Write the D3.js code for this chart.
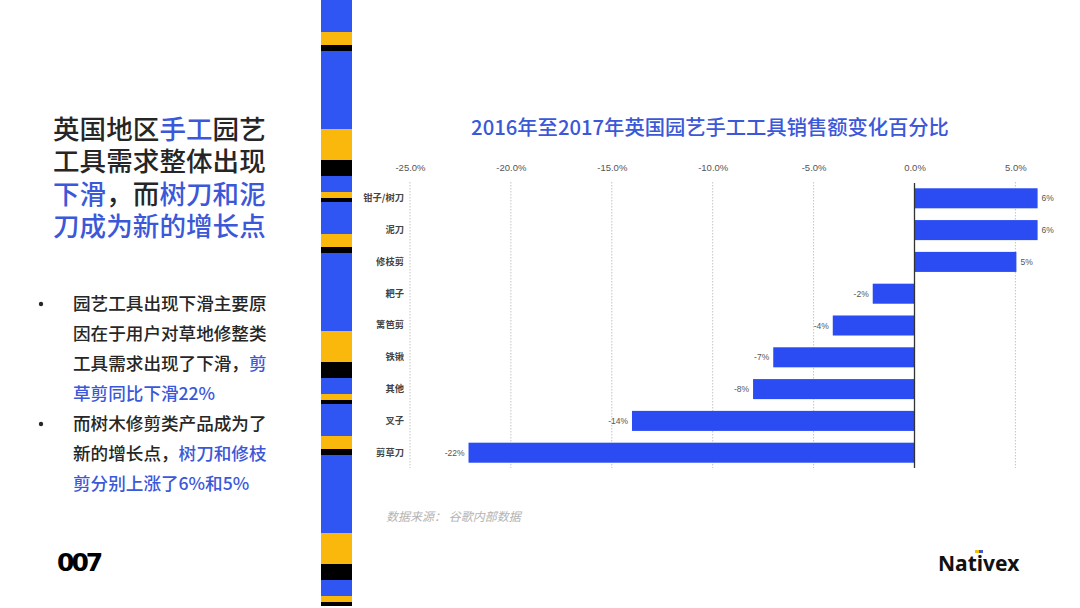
<!DOCTYPE html>
<html>
<head>
<meta charset="utf-8">
<script src="https://cdn.jsdelivr.net/npm/d3@7"></script>
<style>
body { margin: 0; background: #fff; }
svg { display: block; font-family: "Noto Sans CJK SC", "Noto Sans", sans-serif; }
</style>
</head>
<body>
<script>
// data
var categories = ["钳子/树刀", "泥刀", "修枝剪", "耙子", "篱笆剪", "铁锹", "其他", "叉子", "剪草刀"];
var values = [6.1, 6.1, 5.05, -2.07, -4.05, -7.0, -8.0, -14.0, -22.1];
var valueLabels = ["6%", "6%", "5%", "-2%", "-4%", "-7%", "-8%", "-14%", "-22%"];
var xTicks = [-25, -20, -15, -10, -5, 0, 5];

// decorative stripe, one period: [color, start, end]
var stripe = [["#2f56f2", 0, 32], ["#fbb80c", 32, 45], ["#000", 45, 51], ["#2f56f2", 51, 129],
  ["#fbb80c", 129, 160], ["#000", 160, 176], ["#2f56f2", 176, 192], ["#fbb80c", 192, 198], ["#000", 198, 202]];

var blue = "#3b58d9", dark = "#262626";

var svg = d3.select("body").append("svg").attr("width", 1080).attr("height", 608);

// stripe
for (var p = 0; p < 3; p++) {
  stripe.forEach(function(s) {
    svg.append("rect").attr("x", 321).attr("width", 31)
      .attr("y", p * 202 + s[1]).attr("height", s[2] - s[1]).attr("fill", s[0]);
  });
}

// headline
var head = [
  [["英国地区", dark], ["手工", blue], ["园艺", dark]],
  [["工具需求整体出现", dark]],
  [["下滑", blue], ["，而", dark], ["树刀和泥", blue]],
  [["刀成为新的增长点", blue]]
];
head.forEach(function(line, i) {
  var t = svg.append("text").attr("x", 53).attr("y", 139 + i * 32.3)
    .attr("font-size", 26.5).attr("font-weight", 500).attr("letter-spacing", 0.1);
  line.forEach(function(seg) { t.append("tspan").attr("fill", seg[1]).text(seg[0]); });
});

// bullets
var bullets = [
  [["园艺工具出现下滑主要原", dark]],
  [["因在于用户对草地修整类", dark]],
  [["工具需求出现了下滑，", dark], ["剪", blue]],
  [["草剪同比下滑22%", blue]],
  [["而树木修剪类产品成为了", dark]],
  [["新的增长点，", dark], ["树刀和修枝", blue]],
  [["剪分别上涨了6%和5%", blue]]
];
bullets.forEach(function(line, i) {
  var t = svg.append("text").attr("x", 73).attr("y", 310 + i * 30)
    .attr("font-size", 17.6).attr("font-weight", 500);
  line.forEach(function(seg) { t.append("tspan").attr("fill", seg[1]).text(seg[0]); });
});
[0, 4].forEach(function(i) {
  svg.append("circle").attr("cx", 41).attr("cy", 304 + i * 30).attr("r", 2.2).attr("fill", dark);
});

// chart
var x = d3.scaleLinear().domain([-25, 5]).range([410, 1015.4]);
var y = d3.scaleBand().domain(categories).range([182.4, 468.6]).paddingInner(0.37).paddingOuter(0.185);

svg.append("text").attr("x", 710).attr("y", 135).attr("text-anchor", "middle")
  .attr("font-size", 20.3).attr("font-weight", 500).attr("fill", blue)
  .text("2016年至2017年英国园艺手工工具销售额变化百分比");

var grid = svg.append("g");
grid.selectAll("line").data(xTicks.filter(function(d) { return d !== 0; })).enter().append("line")
  .attr("x1", function(d) { return x(d); }).attr("x2", function(d) { return x(d); })
  .attr("y1", 182).attr("y2", 468)
  .attr("stroke", "#c4c4c4").attr("stroke-width", 1).attr("stroke-dasharray", "1.5,1.5");

var axis = d3.axisTop(x).tickValues(xTicks).tickSize(0).tickPadding(0)
  .tickFormat(function(d) { return d.toFixed(1) + "%"; });
var ax = svg.append("g").attr("transform", "translate(0,171)").call(axis);
ax.select(".domain").remove();
ax.selectAll("text").attr("font-size", 9.5).attr("fill", "#555")
  .attr("font-family", "'Liberation Sans', sans-serif");

svg.selectAll(".bar").data(values).enter().append("rect").attr("class", "bar")
  .attr("x", function(d) { return x(Math.min(0, d)); })
  .attr("width", function(d) { return Math.abs(x(d) - x(0)); })
  .attr("y", function(d, i) { return y(categories[i]); })
  .attr("height", y.bandwidth())
  .attr("fill", "#2a4cf2");

svg.append("line").attr("x1", x(0)).attr("x2", x(0)).attr("y1", 183).attr("y2", 468)
  .attr("stroke", "#333").attr("stroke-width", 1.3);

svg.selectAll(".vlab").data(values).enter().append("text").attr("class", "vlab")
  .attr("x", function(d) { return d >= 0 ? x(d) + 4 : x(d) - 4; })
  .attr("y", function(d, i) { return y(categories[i]) + y.bandwidth() / 2 + 3; })
  .attr("text-anchor", function(d) { return d >= 0 ? "start" : "end"; })
  .attr("font-size", 8.5).attr("fill", "#555")
  .attr("font-family", "'Liberation Sans', sans-serif")
  .text(function(d, i) { return valueLabels[i]; });

var yAxis = d3.axisLeft(y).tickSize(0).tickPadding(0);
var ya = svg.append("g").attr("transform", "translate(404,0)").call(yAxis);
ya.select(".domain").remove();
ya.selectAll("text").attr("font-size", 9.3).attr("font-weight", "bold").attr("fill", "#444")
  .attr("font-family", "'Noto Sans CJK SC', sans-serif");

// source
svg.append("text").attr("x", 386).attr("y", 521).attr("font-size", 12).attr("fill", "#b4b4b4")
  .attr("font-style", "italic").text("数据来源：  谷歌内部数据");

// logos
svg.append("text").attr("x", 57).attr("y", 571).attr("font-size", 25).attr("font-weight", "bold")
  .attr("letter-spacing", -3).attr("font-family", "'DejaVu Sans', sans-serif").attr("fill", "#000").text("007");
svg.append("text").attr("x", 938).attr("y", 571).attr("font-size", 21).attr("font-weight", "bold")
  .attr("font-family", "'Noto Sans', sans-serif").attr("fill", "#111").text("Nativex");
svg.append("rect").attr("x", 975).attr("y", 550).attr("width", 4).attr("height", 3).attr("fill", "#f5c000");
svg.append("rect").attr("x", 979).attr("y", 550).attr("width", 4).attr("height", 3).attr("fill", "#3b58d9");
</script>
</body>
</html>
